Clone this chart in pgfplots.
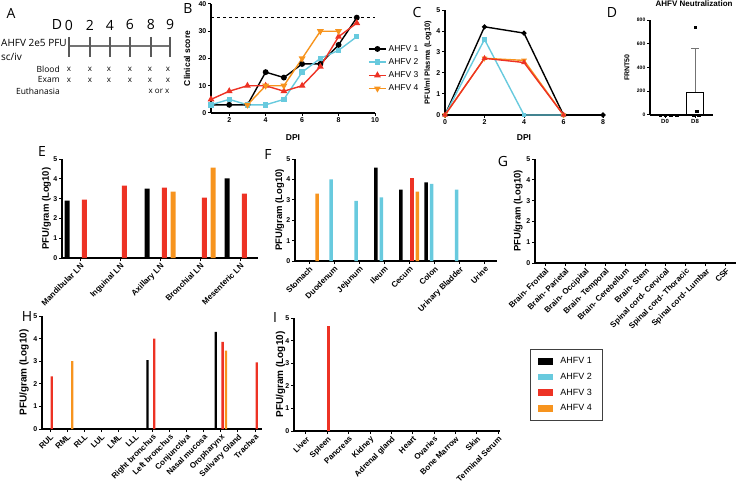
\documentclass[border=0pt]{standalone}
\usepackage{fontspec}
\setmainfont{Liberation Sans}
\newfontfamily\myr{Open Sans}
\usepackage{pgfplots}
\pgfplotsset{compat=1.18}
\definecolor{cA}{RGB}{0,0,0}
\definecolor{cB}{RGB}{104,202,222}
\definecolor{cC}{RGB}{237,50,36}
\definecolor{cD}{RGB}{247,148,30}
\pgfplotsset{
 gp/.style={
   scale only axis, anchor=south west,
   axis lines=left,
   axis line style={-, line width=1.1pt, black},
   tick align=outside,
   major tick length=3pt,
   every tick/.style={black, line width=1pt},
   tick label style={font=\bfseries\fontsize{7}{8}\selectfont, inner sep=1.5pt},
   /pgf/number format/assume math mode=true,
   label style={font=\bfseries\fontsize{8.5}{9}\selectfont},
   clip=false,
 },
 organ/.style={gp, ymin=0, ymax=5, ytick={0,1,2,3,4,5},
   ylabel={PFU/gram (Log10)},
   xticklabel style={rotate=45, anchor=north east, inner sep=1pt, font=\bfseries\fontsize{8}{9}\selectfont},
 },
}
\begin{document}
\begin{tikzpicture}[x=1pt,y=1pt]
\useasboundingbox (0,0) rectangle (738,485);
% ---------- panel letters
\foreach \l/\px/\py in {A/11/472,B/188/476,C/417/472,D/612/472,E/42/333,F/268/330,G/503/323,H/27/168,I/275/167}
  \node[font=\myr\fontsize{14}{14}\selectfont] at (\px,\py) {\l};
% ---------- panel A timeline
\node[font=\myr\fontsize{14}{14}\selectfont] at (57,460) {D};
\foreach \x/\t in {69/0,90/2,110/4,130/6,151/8,170/9}
  \node[font=\myr\fontsize{14}{14}\selectfont] at (\x,460) {\t};
\draw[line width=1.6pt, black!55] (69,439) -- (170,439);
\foreach \x in {69,90,110,130,151,170}
  \draw[line width=1.2pt, black!65] (\x,448) -- (\x,428);
\node[font=\myr\fontsize{10}{10}\selectfont, anchor=west, inner sep=0pt] at (1,442) {AHFV 2e5 PFU};
\node[font=\myr\fontsize{10}{10}\selectfont, anchor=west, inner sep=0pt] at (1,428) {sc/iv};
\foreach \t/\py in {Blood/416,Exam/405,Euthanasia/394}
  \node[font=\myr\fontsize{8.5}{9}\selectfont, anchor=east, inner sep=0pt] at (60,\py) {\t};
\foreach \py in {416,405}
  \foreach \x in {69,90,109,130,150,168}
    \node[font=\myr\fontsize{8}{8}\selectfont, inner sep=0pt] at (\x,\py) {x};
\node[font=\myr\fontsize{8}{8}\selectfont, inner sep=0pt] at (159,394) {x or x};

% ---------- panel B
\begin{axis}[gp, at={(211pt,372pt)}, width=164pt, height=109pt,
  xmin=1, xmax=10, ymin=0, ymax=40, xtick={2,4,6,8,10}, ytick={0,10,20,30,40},
  xlabel={DPI}, ylabel={Clinical score},
  xlabel style={at={(axis description cs:0.5,-0.229)}, anchor=center},
  ylabel style={at={(axis description cs:-0.146,0.5)}, anchor=center},
  legend style={at={(axis description cs:0.939,0.66)}, anchor=north west, draw=none, fill=none,
    font=\fontsize{8.5}{10}\selectfont, row sep=1.8pt},
  legend cell align=left]
\addplot[black, dashed, line width=1.1pt, forget plot] coordinates {(1,35)(10,35)};
\addplot[cA, line width=1.4pt, mark=*, mark size=2.2pt] coordinates {(1,3)(2,3)(3,3)(4,15)(5,13)(6,18)(7,18)(8,25)(9,35)};
\addplot[cB, line width=1.4pt, mark=square*, mark size=2pt] coordinates {(1,3)(2,5)(3,3)(4,3)(5,5)(6,15)(7,20)(8,23)(9,28)};
\addplot[cC, line width=1.4pt, mark=triangle*, mark size=2.6pt] coordinates {(1,5)(2,8)(3,10)(4,10)(5,8)(6,10)(7,17)(8,28)(9,33)};
\addplot[cD, line width=1.4pt, mark=triangle*, mark size=2.6pt, mark options={rotate=180}] coordinates {(3,3)(4,10)(5,10)(6,20)(7,30)(8,30)};
\legend{AHFV 1, AHFV 2, AHFV 3, AHFV 4}
\end{axis}

% ---------- panel C
\begin{axis}[gp, at={(445pt,370pt)}, width=158pt, height=105pt,
  xmin=0, xmax=8, ymin=0, ymax=5, xtick={0,2,4,6,8}, ytick={0,1,2,3,4,5},
  xlabel={DPI}, ylabel={PFU/ml Plasma (Log10)},
  xlabel style={at={(axis description cs:0.5,-0.219)}, anchor=center},
  ylabel style={at={(axis description cs:-0.108,0.5)}, anchor=center, font=\bfseries\fontsize{7.5}{8}\selectfont}]
\addplot[cA, line width=1.4pt, mark=*, mark size=1.8pt] coordinates {(0,0)(2,4.2)(4,3.9)(6,0)(8,0)};
\addplot[cB, line width=1.4pt, mark=square*, mark size=1.7pt] coordinates {(0,0)(2,3.6)(4,0)(6,0)};
\addplot[cD, line width=1.4pt, mark=triangle*, mark size=2pt, mark options={rotate=180}] coordinates {(0,0)(2,2.7)(4,2.6)(6,0)};
\addplot[cC, line width=1.4pt, mark=triangle*, mark size=2pt] coordinates {(0,0)(2,2.7)(4,2.5)(6,0)};
\end{axis}

% ---------- panel D
\begin{axis}[gp, at={(650pt,370pt)}, width=63pt, height=95pt,
  xmin=-0.5, xmax=1.6, ymin=0, ymax=800, ytick={0,200,400,600,800},
  xtick={0,1}, xticklabels={D0,D8},
  yticklabel style={font=\bfseries\fontsize{5}{6}\selectfont},
  xticklabel style={font=\bfseries\fontsize{6}{7}\selectfont},
  ylabel={FRNT50},
  ylabel style={at={(axis description cs:-0.365,0.5)}, anchor=center, font=\bfseries\fontsize{7}{8}\selectfont},
  title={AHFV Neutralization},
  title style={at={(axis description cs:0.70,1)}, anchor=center, yshift=10pt, font=\bfseries\fontsize{8}{9}\selectfont}]
\addplot[ybar, bar width=17pt, fill=white, draw=black, line width=1.2pt,
  error bars/.cd, y dir=plus, y explicit,
  error bar style={black!55, line width=0.8pt},
  error mark options={rotate=90, mark size=4pt, black!55, line width=0.8pt}]
  coordinates {(1,192.5) +- (0,365)};
\addplot[only marks, mark=square*, mark size=1.2pt, black] coordinates {(-0.17,0)(0,0)(0.19,0)(0.39,0)(0.93,0)(1.12,0)(1,740)(1.05,30)};
\end{axis}

% ---------- panel E
\begin{axis}[organ, at={(62pt,227pt)}, width=196pt, height=99pt,
  xmin=-0.45, xmax=4.45, xtick={0,1,2,3,4},
  xticklabels={Mandibular LN, Inguinal LN, Axillary LN, Bronchial LN, Mesenteric LN},
  ylabel style={at={(axis description cs:-0.08,0.5)}, anchor=center, font=\bfseries\fontsize{9.5}{10}\selectfont}]
\addplot[ybar, bar width=5pt, bar shift=-13pt, fill=cA, draw=none] coordinates {(0,2.9)(2,3.5)(4,4.02)};
\addplot[ybar, bar width=5pt, bar shift=4.3pt, fill=cC, draw=none] coordinates {(0,2.95)(1,3.65)(2,3.55)(3,3.05)(4,3.25)};
\addplot[ybar, bar width=5pt, bar shift=13pt, fill=cD, draw=none] coordinates {(2,3.35)(3,4.57)};
\end{axis}

% ---------- panel F
\begin{axis}[organ, at={(295pt,224pt)}, width=202pt, height=102pt,
  xmin=-0.56, xmax=7.49, xtick={0,...,7},
  xticklabels={Stomach, Duodenum, Jejunum, Ileum, Cecum, Colon, Urinary Bladder, Urine},
  ylabel style={at={(axis description cs:-0.076,0.5)}, anchor=center, font=\bfseries\fontsize{9.5}{10}\selectfont}]
\addplot[ybar, bar width=3.5pt, bar shift=-8.5pt, fill=cA, draw=none] coordinates {(3,4.58)(4,3.5)(5,3.85)};
\addplot[ybar, bar width=3.5pt, bar shift=-3pt, fill=cB, draw=none] coordinates {(1,4.0)(2,2.95)(3,3.12)(5,3.78)(6,3.5)};
\addplot[ybar, bar width=3.5pt, bar shift=2.8pt, fill=cC, draw=none] coordinates {(4,4.08)};
\addplot[ybar, bar width=3.5pt, bar shift=8pt, fill=cD, draw=none] coordinates {(0,3.3)(4,3.4)};
\end{axis}

% ---------- panel G
\begin{axis}[organ, at={(535pt,222pt)}, width=201pt, height=104pt,
  xmin=-0.5, xmax=9.5, xtick={0,...,9},
  xticklabels={Brain- Frontal, Brain- Parietal, Brain- Occipital, Brain- Temporal, Brain- Cerebellum, Brain- Stem, Spinal cord- Cervical, Spinal cord- Thoracic, Spinal cord- Lumbar, CSF},
  ylabel style={at={(axis description cs:-0.084,0.5)}, anchor=center, font=\bfseries\fontsize{9.5}{10}\selectfont}]
\end{axis}

% ---------- panel H
\begin{axis}[organ, at={(42pt,56pt)}, width=220pt, height=113pt,
  xmin=-0.47, xmax=12.41, xtick={0,...,12},
  xticklabels={RUL, RML, RLL, LUL, LML, LLL, Right bronchus, Left bronchus, Conjunctiva, Nasal mucosa, Oropharynx, Salivary Gland, Trachea},
  ylabel style={at={(axis description cs:-0.082,0.5)}, anchor=center, font=\bfseries\fontsize{10}{11}\selectfont}]
\addplot[ybar, bar width=2.3pt, bar shift=-5pt, fill=cA, draw=none] coordinates {(6,3.05)(10,4.3)};
\addplot[ybar, bar width=2.3pt, bar shift=1.8pt, fill=cC, draw=none] coordinates {(0,2.33)(6,4.0)(10,3.85)(12,2.95)};
\addplot[ybar, bar width=2.3pt, bar shift=5.2pt, fill=cD, draw=none] coordinates {(1,3.0)(10,3.47)};
\end{axis}

% ---------- panel I
\begin{axis}[organ, at={(294pt,54pt)}, width=206pt, height=113pt,
  xmin=-0.56, xmax=9.09, xtick={0,...,9},
  xticklabels={Liver, Spleen, Pancreas, Kidney, Adrenal gland, Heart, Ovaries, Bone Marrow, Skin, Terminal Serum},
  ylabel style={at={(axis description cs:-0.065,0.5)}, anchor=center, font=\bfseries\fontsize{10}{11}\selectfont},
  legend style={at={(axis description cs:1.1456,0.7257)}, anchor=north west, draw=black!75, line width=0.8pt, fill=white,
    font=\fontsize{9}{10}\selectfont, inner xsep=8pt, inner ysep=6pt, row sep=4pt,
    /tikz/every odd column/.append style={column sep=5pt}},
  legend image code/.code={\fill[#1] (0pt,-3.3pt) rectangle (15pt,3.3pt);},
  legend cell align=left]
\addplot[ybar, bar width=3pt, bar shift=1.5pt, fill=cC, draw=none, forget plot] coordinates {(1,4.65)};
\addlegendimage{fill=cA, draw=none}\addlegendentry{AHFV 1}
\addlegendimage{fill=cB, draw=none}\addlegendentry{AHFV 2}
\addlegendimage{fill=cC, draw=none}\addlegendentry{AHFV 3}
\addlegendimage{fill=cD, draw=none}\addlegendentry{AHFV 4}
\end{axis}
\end{tikzpicture}
\end{document}
